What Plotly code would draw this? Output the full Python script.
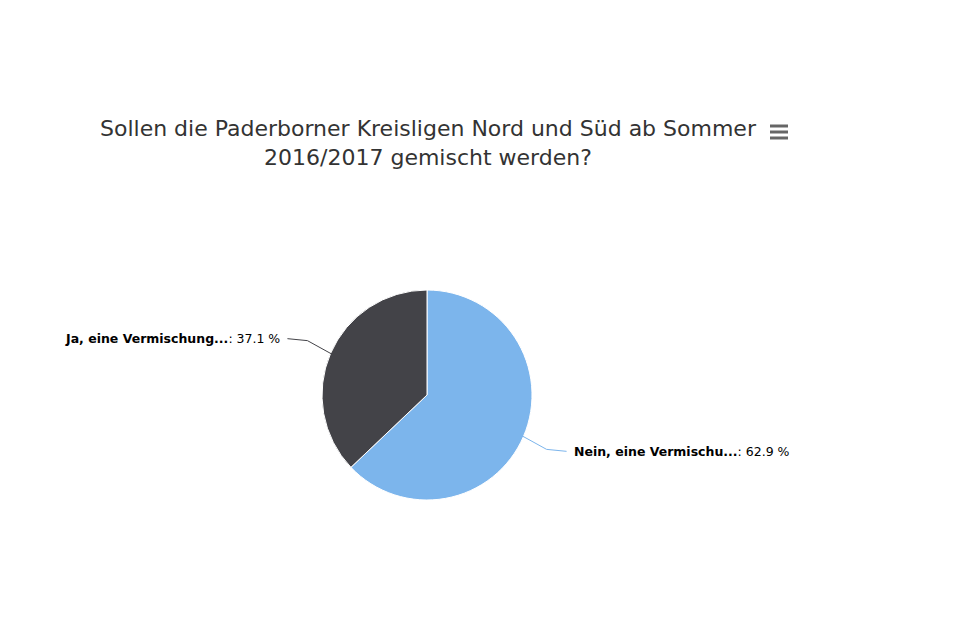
import math
import plotly.graph_objects as go

labels = ["Nein, eine Vermischu...", "Ja, eine Vermischung..."]
values = [62.9, 37.1]
colors = ["#7cb5ec", "#434348"]
title_text = "Sollen die Paderborner Kreisligen Nord und Süd ab Sommer<br>2016/2017 gemischt werden?"

W, H = 960, 640
OFF = 8  # page offset of the rendered figure
cx, cy, r = 427 - OFF, 395 - OFF, 105

fig = go.Figure(go.Pie(
    labels=labels, values=values, sort=False, direction="clockwise", rotation=0,
    marker=dict(colors=colors, line=dict(color="white", width=1)),
    textinfo="none", hoverinfo="label+percent", showlegend=False,
    domain=dict(x=[(cx - r) / W, (cx + r) / W], y=[(H - cy - r) / H, (H - cy + r) / H]),
))

shapes, annots = [], []
total = sum(values)
start = 0.0
for lab, v in zip(labels, values):
    mid = (start + v / 2) / total * 2 * math.pi
    start += v
    dx, dy = math.sin(mid), math.cos(mid)
    ex, ey = cx + r * dx * 0.98, cy - r * dy * 0.98
    side = 1 if dx > 0 else -1
    lx, ly = ex + side * 45, ey - dy * 40
    tx = lx + side * 5
    shapes.append(dict(type="path", xref="paper", yref="paper",
                       path=f"M {ex/W},{1-ey/H} L {(ex+side*25)/W},{1-(ey-dy*35)/H} L {lx/W},{1-ly/H}",
                       line=dict(color=colors[labels.index(lab)], width=1)))
    annots.append(dict(xref="paper", yref="paper", x=tx / W, y=1 - ly / H, showarrow=False,
                       xanchor="left" if side > 0 else "right", yanchor="middle",
                       text=f"<b>{lab}</b>: {v} %", font=dict(size=12.5, color="#000", family="DejaVu Sans")))

# hamburger menu icon
for i in range(3):
    y = 1 - (126 - OFF + i * 6) / H
    shapes.append(dict(type="line", xref="paper", yref="paper", x0=(770 - OFF) / W, x1=(788 - OFF) / W,
                       y0=y, y1=y, line=dict(color="#666", width=3)))

annots.append(dict(xref="paper", yref="paper", x=(428 - OFF) / W, y=1 - (143 - OFF) / H, showarrow=False,
                   text=title_text, xanchor="center", yanchor="middle",
                   font=dict(size=22, color="#333", family="DejaVu Sans")))

fig.update_layout(width=W, height=H, margin=dict(l=0, r=0, t=0, b=0),
                  paper_bgcolor="white", plot_bgcolor="white",
                  shapes=shapes, annotations=annots)
fig.write_html("out.html")
